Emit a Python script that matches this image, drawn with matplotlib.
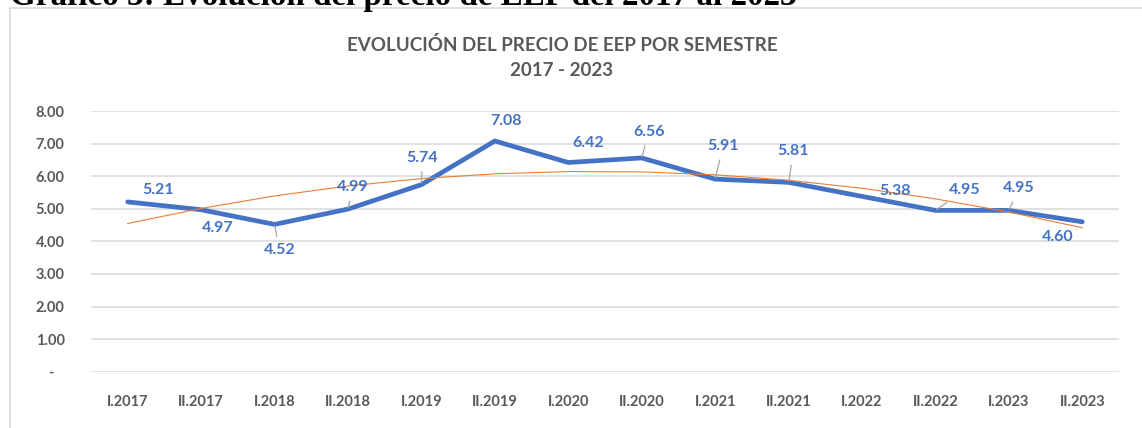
import numpy as np
import matplotlib
matplotlib.use('Agg')
import matplotlib.pyplot as plt
from matplotlib.lines import Line2D

plt.rcParams['font.family'] = ['Lato', 'DejaVu Sans']

# datos del grafico
semestres = ['I.2017', 'II.2017', 'I.2018', 'II.2018', 'I.2019', 'II.2019', 'I.2020',
             'II.2020', 'I.2021', 'II.2021', 'I.2022', 'II.2022', 'I.2023', 'II.2023']
precio = [5.21, 4.97, 4.52, 4.99, 5.74, 7.08, 6.42, 6.56, 5.91, 5.81, 5.38, 4.95, 4.95, 4.60]
yticks = [0, 1, 2, 3, 4, 5, 6, 7, 8]

# posicion de las etiquetas (pixeles) y si llevan linea guia
label_offsets = [(30, 12), (17, -18), (5, -26), (5, 22), (1, 27), (11, 20), (20, 19),
                 (7, 26), (8, 33), (5, 31), (33, 5), (29, 20), (10, 22), (-25, -15)]
leaders = [0, 0, 1, 1, 1, 0, 0, 1, 1, 1, 0, 1, 1, 0]

azul = '#4472C4'
naranja = '#ED7D31'
gris = '#595959'

W, H = 1142, 428
fig = plt.figure(figsize=(W / 100, H / 100), dpi=100)
ax = fig.add_axes([91 / W, 56.3 / H, (1119 - 91) / W, (317 - 56.3) / H])

x = np.arange(len(precio))
ax.plot(x, precio, color=azul, lw=3.4, solid_capstyle='round', solid_joinstyle='round', zorder=3)

# linea de tendencia polinomica (orden 2)
coef = np.polyfit(x + 1, precio, 2)
ax.plot(x, np.polyval(coef, x + 1), color=naranja, lw=0.8, zorder=4)

for i, v in enumerate(precio):
    dx, dy = label_offsets[i]
    props = None
    if leaders[i]:
        props = dict(arrowstyle='-', color='#A6A6A6', lw=0.9, shrinkA=3, shrinkB=1)
    ax.annotate(f'{v:.2f}', (i, v), xytext=(dx, dy), textcoords='offset pixels',
                ha='center', va='center', color=azul, fontsize=11.5, fontweight='bold',
                arrowprops=props, zorder=5)

ax.set_xlim(-0.5, len(precio) - 0.5)
ax.set_ylim(0, 8)
ax.set_yticks(yticks)
ax.set_yticklabels(['-   ' if t == 0 else f'{t:.2f}' for t in yticks])
ax.set_xticks(x)
ax.set_xticklabels(semestres)
ax.grid(axis='y', color='#D9D9D9', lw=1.1)
ax.set_axisbelow(True)
for s in ax.spines.values():
    s.set_visible(False)
ax.tick_params(length=0, colors=gris, labelsize=10.5)
ax.tick_params(axis='x', pad=17)
ax.tick_params(axis='y', pad=19)
for lab in ax.get_xticklabels() + ax.get_yticklabels():
    lab.set_fontweight('bold')

fig.text(562 / W, 1 - 45 / H, 'EVOLUCIÓN DEL PRECIO DE EEP POR SEMESTRE', ha='center', va='center',
         color=gris, fontsize=13.5, fontweight='bold')
fig.text(562 / W, 1 - 70 / H, '2017 - 2023', ha='center', va='center',
         color=gris, fontsize=13.5, fontweight='bold')

# borde del area del grafico
fig.add_artist(Line2D([10 / W, 1], [1 - 8 / H, 1 - 8 / H], color='#D9D9D9', lw=1.2))
fig.add_artist(Line2D([10 / W, 10 / W], [0, 1 - 8 / H], color='#D9D9D9', lw=1.2))

# titulo del documento, cortado arriba
t = fig.text(10 / W, 1 - 4.5 / H, 'Gráfico 3: Evolución del precio de EEP del 2017 al 2023',
             ha='left', va='baseline', fontsize=20, fontweight='bold', color='black',
             family=['Liberation Serif', 'DejaVu Serif'])
fig.canvas.draw()
ancho = t.get_window_extent().width
t.set_fontsize(20 * 788 / ancho)

fig.savefig('out.png', dpi=100)
